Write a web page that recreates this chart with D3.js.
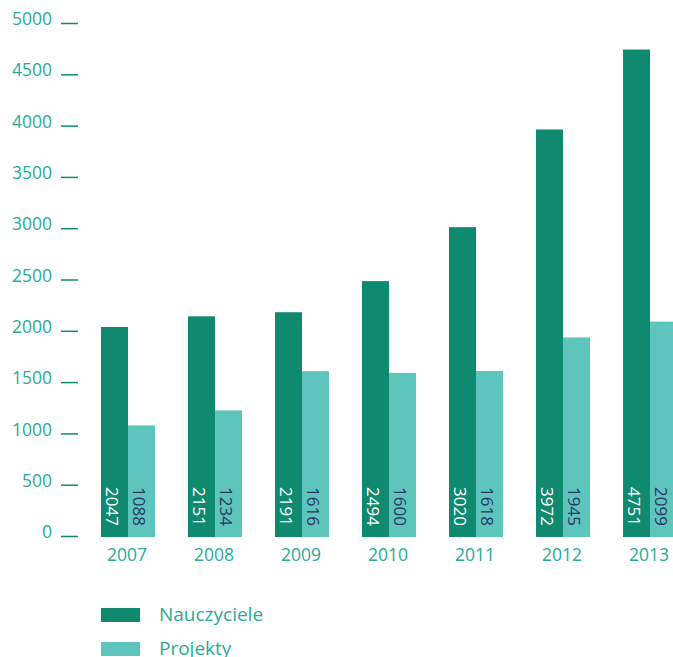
<!DOCTYPE html>
<html>
<head>
<meta charset="utf-8">
<script src="https://cdn.jsdelivr.net/npm/d3@7"></script>
<style>
  body { margin: 0; background: #fff; }
  text { font-family: "Open Sans", sans-serif; }
</style>
</head>
<body>
<svg id="chart" width="673" height="657"></svg>
<script>
// data
const years = ['2007', '2008', '2009', '2010', '2011', '2012', '2013']
const nauczyciele = [2047, 2151, 2191, 2494, 3020, 3972, 4751]
const projekty = [1088, 1234, 1616, 1600, 1618, 1945, 2099]
const seriesNames = ['Nauczyciele', 'Projekty']
const yTicks = [0, 500, 1000, 1500, 2000, 2500, 3000, 3500, 4000, 4500, 5000]

const colors = { Nauczyciele: '#108a6f', Projekty: '#5dc5bc' }
const labelColors = { Nauczyciele: '#ffffff', Projekty: '#2b3766' }
const textColor = '#2aab94'

const svg = d3.select('#chart')

const x = d3.scaleBand()
  .domain(years)
  .range([101, 677])
  .paddingInner(0.3793)
  .paddingOuter(0)

const xInner = d3.scaleBand()
  .domain(seriesNames)
  .range([0, x.bandwidth()])

const y = d3.scaleLinear().domain([0, 5000]).range([537, 24])

// y axis: labels with a short dash to their right
const yAxis = svg.append('g')
yAxis.selectAll('line')
  .data(yTicks)
  .enter()
  .append('line')
  .attr('x1', 61)
  .attr('x2', 78)
  .attr('y1', d => y(d) - 0.5)
  .attr('y2', d => y(d) - 0.5)
  .attr('stroke', '#108a6f')
  .attr('stroke-width', 1.5)
yAxis.selectAll('text')
  .data(yTicks)
  .enter()
  .append('text')
  .attr('x', 52)
  .attr('y', d => y(d) - 5)
  .attr('dy', '0.35em')
  .attr('text-anchor', 'end')
  .attr('fill', textColor)
  .style('font-size', '17.5px')
  .text(d => d)

// rows per year, one entry per series
const rows = years.map((yr, i) => ({
  year: yr,
  values: [
    { key: 'Nauczyciele', value: nauczyciele[i] },
    { key: 'Projekty', value: projekty[i] }
  ]
}))

const groups = svg.selectAll('.year')
  .data(rows)
  .enter()
  .append('g')
  .attr('class', 'year')
  .attr('transform', d => 'translate(' + x(d.year) + ',0)')

groups.selectAll('rect')
  .data(d => d.values)
  .enter()
  .append('rect')
  .attr('x', d => xInner(d.key))
  .attr('width', xInner.bandwidth())
  .attr('y', d => y(d.value))
  .attr('height', d => y(0) - y(d.value))
  .attr('fill', d => colors[d.key])

// value labels, rotated, near the bottom of each bar
groups.selectAll('.val')
  .data(d => d.values)
  .enter()
  .append('text')
  .attr('class', 'val')
  .attr('transform', d => 'translate(' + (xInner(d.key) + xInner.bandwidth() / 2 - 3) + ',' + (y(0) - 11) + ') rotate(90)')
  .attr('dy', '0.35em')
  .attr('text-anchor', 'end')
  .attr('fill', d => labelColors[d.key])
  .style('font-size', '17px')
  .text(d => d.value)

// year labels
svg.append('g')
  .selectAll('text')
  .data(years)
  .enter()
  .append('text')
  .attr('x', d => x(d) + x.bandwidth() / 2 - 1)
  .attr('y', 555)
  .attr('dy', '0.35em')
  .attr('text-anchor', 'middle')
  .attr('fill', textColor)
  .style('font-size', '17.5px')
  .text(d => d)

// legend
const legend = svg.append('g')
  .selectAll('g')
  .data(seriesNames)
  .enter()
  .append('g')
  .attr('transform', (d, i) => 'translate(101,' + (608 + i * 34) + ')')
legend.append('rect')
  .attr('width', 39)
  .attr('height', 14)
  .attr('fill', d => colors[d])
legend.append('text')
  .attr('x', 58)
  .attr('y', 13)
  .attr('fill', textColor)
  .style('font-size', '19px')
  .text(d => d)
</script>
</body>
</html>
